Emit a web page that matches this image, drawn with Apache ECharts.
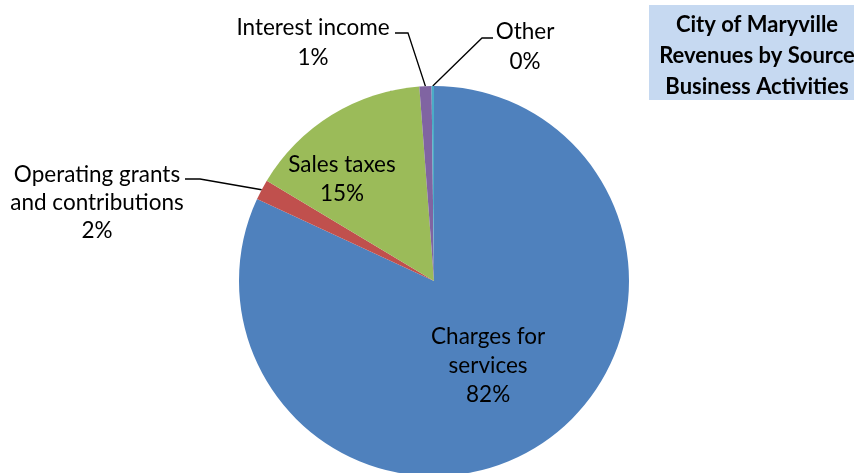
<!DOCTYPE html>
<html>
<head>
<meta charset="utf-8">
<script src="https://cdn.jsdelivr.net/npm/echarts@6/dist/echarts.min.js"></script>
<style>
  html, body { margin: 0; padding: 0; background: #ffffff; }
  #chart { width: 854px; height: 473px; }
</style>
</head>
<body>
<div id="chart"></div>
<script>
// ---- Data ----
const categories = [
  'Charges for\nservices',
  'Operating grants\nand contributions',
  'Sales taxes',
  'Interest income',
  'Other'
];
const shares = [81.9, 1.7, 15.2, 1.0, 0.2];
const sliceColors = ['#4F81BD', '#C0504D', '#9BBB59', '#8064A2', '#4BACC6'];
const titleLines = ['City of Maryville', 'Revenues by Source', 'Business Activities'];

// ---- Layout (label placement, not data) ----
const insideIdx = [0, 2];
const labelPlace = {
  1: { x: 97, y: 203, lh: 28, bend: [200, 179], end: [185, 179] },
  2: { x: 342, y: 179, lh: 29 },
  3: { x: 313, y: 43, lh: 30, bend: [408, 33], end: [395, 33] },
  4: { x: 525, y: 47, lh: 30, bend: [482, 38], end: [493, 38] }
};

const chart = echarts.init(document.getElementById('chart'), null, { renderer: 'canvas' });

const seriesData = categories.map((name, i) => ({
  name: name,
  value: shares[i],
  itemStyle: { color: sliceColors[i] },
  label: {
    position: insideIdx.indexOf(i) >= 0 ? 'inside' : 'outside',
    lineHeight: labelPlace[i] ? labelPlace[i].lh : 29
  }
}));

chart.setOption({
  animation: false,
  backgroundColor: '#ffffff',
  graphic: [
    { type: 'rect', shape: { x: 649, y: 5, width: 220, height: 95 }, style: { fill: '#C6D9F1' }, z: 10 },
    { type: 'text', x: 757, y: 56, z: 11,
      style: { text: titleLines.join('\n'), fill: '#000000', fontFamily: 'Lato', fontWeight: 'bold',
               fontSize: 22, lineHeight: 31, align: 'center', verticalAlign: 'middle' } }
  ],
  series: [{
    type: 'pie',
    center: [434, 281],
    radius: 195,
    startAngle: 90,
    clockwise: true,
    percentPrecision: 0,
    avoidLabelOverlap: false,
    itemStyle: { borderWidth: 0 },
    label: {
      formatter: '{b}\n{d}%',
      color: '#000000',
      fontFamily: 'Lato',
      fontSize: 22.5,
      lineHeight: 29,
      align: 'center'
    },
    labelLine: { show: true, length: 20, length2: 15, lineStyle: { color: '#000000', width: 1.3 } },
    labelLayout: function (p) {
      const L = labelPlace[p.dataIndex];
      if (!L) return {};
      const out = { x: L.x, y: L.y, align: 'center', verticalAlign: 'middle' };
      if (L.bend && p.labelLinePoints) {
        out.labelLinePoints = [p.labelLinePoints[0], L.bend, L.end];
      }
      return out;
    },
    emphasis: { disabled: true },
    data: seriesData
  }]
});
</script>
</body>
</html>
